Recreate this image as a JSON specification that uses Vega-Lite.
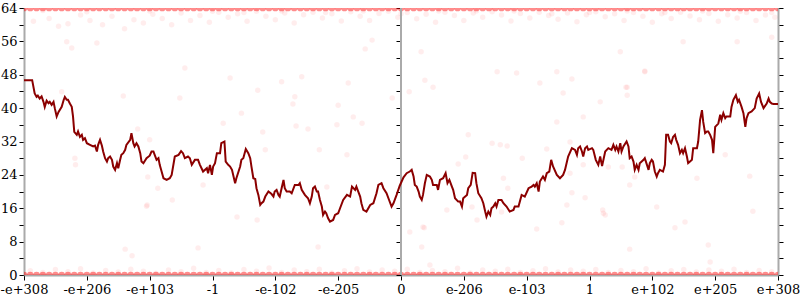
{
  "$schema": "https://vega.github.io/schema/vega-lite/v6.json",
  "width": 754,
  "height": 267,
  "autosize": {"type": "none"},
  "padding": {"left": 24, "top": 8, "right": 22, "bottom": 25},
  "background": "white",
  "config": {"view": {"stroke": null, "fill": "white"}, "font": "DejaVu Serif"},
  "datasets": {
    "band": [
      {"x":-6,"top":64,"bot":0},{"x":-5.9,"top":64,"bot":0},{"x":-5.8,"top":64,"bot":0},{"x":-5.7,"top":64,"bot":0},{"x":-5.6,"top":64,"bot":0},{"x":-5.5,"top":64,"bot":0},{"x":-5.4,"top":64,"bot":0},{"x":-5.3,"top":64,"bot":0},{"x":-5.2,"top":64,"bot":0},{"x":-5.1,"top":64,"bot":0},
      {"x":-5,"top":64,"bot":0},{"x":-4.9,"top":64,"bot":0},{"x":-4.8,"top":64,"bot":0},{"x":-4.7,"top":64,"bot":0},{"x":-4.6,"top":64,"bot":0},{"x":-4.5,"top":64,"bot":0},{"x":-4.4,"top":64,"bot":0},{"x":-4.3,"top":64,"bot":0},{"x":-4.2,"top":64,"bot":0},{"x":-4.1,"top":64,"bot":0},
      {"x":-4,"top":64,"bot":0},{"x":-3.9,"top":64,"bot":0},{"x":-3.8,"top":64,"bot":0},{"x":-3.7,"top":64,"bot":0},{"x":-3.6,"top":64,"bot":0},{"x":-3.5,"top":64,"bot":0},{"x":-3.4,"top":64,"bot":0},{"x":-3.3,"top":64,"bot":0},{"x":-3.2,"top":64,"bot":0},{"x":-3.1,"top":64,"bot":0},
      {"x":-3,"top":64,"bot":0},{"x":-2.9,"top":64,"bot":0},{"x":-2.8,"top":64,"bot":0},{"x":-2.7,"top":64,"bot":0},{"x":-2.6,"top":64,"bot":0},{"x":-2.5,"top":64,"bot":0},{"x":-2.4,"top":64,"bot":0},{"x":-2.3,"top":64,"bot":0},{"x":-2.2,"top":64,"bot":0},{"x":-2.1,"top":64,"bot":0},
      {"x":-2,"top":64,"bot":0},{"x":-1.9,"top":64,"bot":0},{"x":-1.8,"top":64,"bot":0},{"x":-1.7,"top":64,"bot":0},{"x":-1.6,"top":64,"bot":0},{"x":-1.5,"top":64,"bot":0},{"x":-1.4,"top":64,"bot":0},{"x":-1.3,"top":64,"bot":0},{"x":-1.2,"top":64,"bot":0},{"x":-1.1,"top":64,"bot":0},
      {"x":-1,"top":64,"bot":0},{"x":-0.9,"top":64,"bot":0},{"x":-0.8,"top":64,"bot":0},{"x":-0.7,"top":64,"bot":0},{"x":-0.6,"top":64,"bot":0},{"x":-0.5,"top":64,"bot":0},{"x":-0.4,"top":64,"bot":0},{"x":-0.3,"top":64,"bot":0},{"x":-0.2,"top":64,"bot":0},{"x":-0.1,"top":64,"bot":0},
      {"x":0,"top":64,"bot":0},{"x":0.1,"top":64,"bot":0},{"x":0.2,"top":64,"bot":0},{"x":0.3,"top":64,"bot":0},{"x":0.4,"top":64,"bot":0},{"x":0.5,"top":64,"bot":0},{"x":0.6,"top":64,"bot":0},{"x":0.7,"top":64,"bot":0},{"x":0.8,"top":64,"bot":0},{"x":0.9,"top":64,"bot":0},
      {"x":1,"top":64,"bot":0},{"x":1.1,"top":64,"bot":0},{"x":1.2,"top":64,"bot":0},{"x":1.3,"top":64,"bot":0},{"x":1.4,"top":64,"bot":0},{"x":1.5,"top":64,"bot":0},{"x":1.6,"top":64,"bot":0},{"x":1.7,"top":64,"bot":0},{"x":1.8,"top":64,"bot":0},{"x":1.9,"top":64,"bot":0},
      {"x":2,"top":64,"bot":0},{"x":2.1,"top":64,"bot":0},{"x":2.2,"top":64,"bot":0},{"x":2.3,"top":64,"bot":0},{"x":2.4,"top":64,"bot":0},{"x":2.5,"top":64,"bot":0},{"x":2.6,"top":64,"bot":0},{"x":2.7,"top":64,"bot":0},{"x":2.8,"top":64,"bot":0},{"x":2.9,"top":64,"bot":0},
      {"x":3,"top":64,"bot":0},{"x":3.1,"top":64,"bot":0},{"x":3.2,"top":64,"bot":0},{"x":3.3,"top":64,"bot":0},{"x":3.4,"top":64,"bot":0},{"x":3.5,"top":64,"bot":0},{"x":3.6,"top":64,"bot":0},{"x":3.7,"top":64,"bot":0},{"x":3.8,"top":64,"bot":0},{"x":3.9,"top":64,"bot":0},
      {"x":4,"top":64,"bot":0},{"x":4.1,"top":64,"bot":0},{"x":4.2,"top":64,"bot":0},{"x":4.3,"top":64,"bot":0},{"x":4.4,"top":64,"bot":0},{"x":4.5,"top":64,"bot":0},{"x":4.6,"top":64,"bot":0},{"x":4.7,"top":64,"bot":0},{"x":4.8,"top":64,"bot":0},{"x":4.9,"top":64,"bot":0},
      {"x":5,"top":64,"bot":0},{"x":5.1,"top":64,"bot":0},{"x":5.2,"top":64,"bot":0},{"x":5.3,"top":64,"bot":0},{"x":5.4,"top":64,"bot":0},{"x":5.5,"top":64,"bot":0},{"x":5.6,"top":64,"bot":0},{"x":5.7,"top":64,"bot":0},{"x":5.8,"top":64,"bot":0},{"x":5.9,"top":64,"bot":0},
      {"x":6,"top":64,"bot":0}
    ],
    "pts": [
      {"x":-5.85,"y":60.8},{"x":-5.6,"y":61.5},{"x":-5.45,"y":59.6},{"x":-5.3,"y":60.2},{"x":-5.1,"y":62.3},{"x":-4.95,"y":61},{"x":-4.75,"y":60},{"x":-4.6,"y":62},{"x":-4.4,"y":59},{"x":-4.25,"y":61.2},{"x":-4.1,"y":60.4},{"x":-3.95,"y":62.5},{"x":-3.8,"y":61.5},{"x":-3.65,"y":60},{"x":-3.5,"y":62.8},{"x":-3.35,"y":61},{"x":-3.2,"y":62.2},{"x":-3.05,"y":60.6},{"x":-2.9,"y":63},{"x":-2.75,"y":61.8},{"x":-2.6,"y":62.6},{"x":-2.45,"y":60.8},{"x":-2.3,"y":63.2},{"x":-2.15,"y":62},{"x":-2,"y":61.2},{"x":-1.85,"y":62.8},{"x":-1.7,"y":60.4},{"x":-1.55,"y":62.4},{"x":-1.4,"y":63},{"x":-1.25,"y":61.6},{"x":-1.1,"y":62.6},{"x":-0.95,"y":60.9},{"x":-0.8,"y":63.1},{"x":-0.65,"y":62},{"x":-0.5,"y":61},{"x":-0.35,"y":62.7},{"x":-0.2,"y":63.2},{"x":-0.05,"y":61.8},{"x":0.1,"y":62.9},{"x":0.25,"y":61.4},{"x":0.4,"y":62.5},{"x":0.55,"y":60.6},{"x":0.7,"y":63},{"x":0.85,"y":62.2},{"x":1,"y":61},{"x":1.15,"y":62.8},{"x":1.3,"y":61.8},{"x":1.45,"y":63.1},{"x":1.6,"y":62.3},{"x":1.75,"y":60.9},{"x":1.9,"y":62.7},{"x":2.05,"y":61.6},{"x":2.2,"y":63},{"x":2.35,"y":62.2},{"x":2.5,"y":61.3},{"x":2.65,"y":62.8},{"x":2.8,"y":60.7},{"x":2.95,"y":62.4},{"x":3.1,"y":63.1},{"x":3.25,"y":61.9},{"x":3.4,"y":62.6},{"x":3.55,"y":61},{"x":3.7,"y":62.9},{"x":3.85,"y":62},{"x":4,"y":60.6},{"x":4.15,"y":62.6},{"x":4.3,"y":61.5},{"x":4.45,"y":63},{"x":4.6,"y":62.1},{"x":4.75,"y":61.2},{"x":4.9,"y":62.7},{"x":5.05,"y":60.8},{"x":5.2,"y":62.4},{"x":5.35,"y":61.6},{"x":5.5,"y":62.9},{"x":5.65,"y":61},{"x":5.8,"y":62.3},{"x":5.95,"y":61.8},
      {"x":-2.5,"y":62.9},{"x":-1.9,"y":63.3},{"x":-1.2,"y":62.9},{"x":-0.6,"y":63.3},{"x":0,"y":62.6},{"x":0.6,"y":63.3},{"x":1.2,"y":63.3},{"x":1.8,"y":63.3},{"x":2.4,"y":62.6},{"x":3,"y":62.9},{"x":3.6,"y":63.3},{"x":4.2,"y":62.9},{"x":4.8,"y":63.3},{"x":5.4,"y":63.2},{"x":5.9,"y":62.9},{"x":-3,"y":63.2},{"x":-4,"y":63.3},{"x":-5,"y":63.1},{"x":-5.7,"y":63.4},
      {"x":-5.9,"y":1},{"x":-5.7,"y":0.6},{"x":-5.5,"y":1.3},{"x":-5.3,"y":0.8},{"x":-5.1,"y":1.5},{"x":-4.9,"y":0.5},{"x":-4.7,"y":1.1},{"x":-4.5,"y":0.7},{"x":-4.3,"y":1.4},{"x":-4.1,"y":0.9},{"x":-3.9,"y":0.4},{"x":-3.7,"y":1.2},{"x":-3.5,"y":0.8},{"x":-3.3,"y":1.6},{"x":-3.1,"y":0.6},{"x":-2.9,"y":1.1},{"x":-2.7,"y":0.5},{"x":-2.5,"y":1.3},{"x":-2.3,"y":0.9},{"x":-2.1,"y":1.7},{"x":-1.9,"y":0.6},{"x":-1.7,"y":1.2},{"x":-1.5,"y":0.8},{"x":-1.3,"y":1.4},{"x":-1.1,"y":0.5},{"x":-0.9,"y":1},{"x":-0.7,"y":1.5},{"x":-0.5,"y":0.7},{"x":-0.3,"y":1.2},{"x":-0.1,"y":0.9},{"x":0.1,"y":1.4},{"x":0.3,"y":0.6},{"x":0.5,"y":1.1},{"x":0.7,"y":0.8},{"x":0.9,"y":1.6},{"x":1.1,"y":0.5},{"x":1.3,"y":1.2},{"x":1.5,"y":0.9},{"x":1.7,"y":1.4},{"x":1.9,"y":0.6},{"x":2.1,"y":1},{"x":2.3,"y":1.5},{"x":2.5,"y":0.7},{"x":2.7,"y":1.2},{"x":2.9,"y":0.9},{"x":3.1,"y":1.3},{"x":3.3,"y":0.6},{"x":3.5,"y":1.1},{"x":3.7,"y":0.8},{"x":3.9,"y":1.5},{"x":4.1,"y":0.5},{"x":4.3,"y":1},{"x":4.5,"y":1.3},{"x":4.7,"y":0.7},{"x":4.9,"y":1.2},{"x":5.1,"y":0.9},{"x":5.3,"y":1.4},{"x":5.5,"y":0.6},{"x":5.7,"y":1.1},{"x":5.9,"y":0.8},
      {"x":-3.52,"y":42.4},{"x":-2.72,"y":47.2},{"x":-2.54,"y":38.8},{"x":-2.83,"y":36.4},{"x":-4.0,"y":32.4},{"x":-4.03,"y":23.5},{"x":-3.87,"y":20.8},{"x":-3.64,"y":18},{"x":-3.15,"y":21.6},{"x":-2.61,"y":13.9},{"x":-2.29,"y":13.2},{"x":-4.04,"y":16.8},{"x":-2.28,"y":44.3},{"x":-2.2,"y":34.3},{"x":-2.16,"y":30},
      {"x":-1.9,"y":46.3},{"x":-1.58,"y":47.5},{"x":-1.69,"y":42.7},{"x":-1.72,"y":41},{"x":-0.84,"y":46},{"x":-1.0,"y":40.7},{"x":-0.76,"y":37.9},{"x":-0.62,"y":36.4},{"x":-1.02,"y":36},{"x":-1.48,"y":35},{"x":-1.67,"y":35.7},{"x":-1.3,"y":30},{"x":-0.86,"y":28.8},{"x":-0.14,"y":42.4},{"x":-1.18,"y":21.1},
      {"x":0.38,"y":46.7},{"x":0.51,"y":45},{"x":0.13,"y":43.9},{"x":1.07,"y":33.6},{"x":1.45,"y":31.6},{"x":1.58,"y":31.2},{"x":1.69,"y":30.9},{"x":1.03,"y":28.3},{"x":0.91,"y":26.6},{"x":1.93,"y":28},{"x":1.63,"y":23.2},{"x":1.7,"y":20.8},{"x":0.73,"y":15.6},{"x":1.13,"y":16.3},{"x":1.6,"y":15.1},{"x":1.21,"y":13.2},{"x":0.35,"y":11.5},{"x":1.53,"y":48.7},{"x":1.84,"y":48.4},
      {"x":2.48,"y":48.7},{"x":2.21,"y":46},{"x":2.58,"y":43.6},{"x":2.72,"y":47},{"x":3.17,"y":41.5},{"x":3.6,"y":45},{"x":3.6,"y":43.1},{"x":2.48,"y":36.7},{"x":2.9,"y":37.9},{"x":2.32,"y":30.2},{"x":2.69,"y":31.9},{"x":2.69,"y":24.4},{"x":2.9,"y":26.4},{"x":3.3,"y":25.9},{"x":3.52,"y":25.9},{"x":3.64,"y":21.6},{"x":3.72,"y":23.5},{"x":2.72,"y":19.7},{"x":2.93,"y":18.5},{"x":2.64,"y":16.8},{"x":3.21,"y":15.6},{"x":3.25,"y":14.4},{"x":2.56,"y":12.5},{"x":2.16,"y":11},{"x":3.88,"y":48.7},
      {"x":5.16,"y":28.8},{"x":4.71,"y":23.2},{"x":5.55,"y":23.7},{"x":4.07,"y":16.3},{"x":5.6,"y":15.3},{"x":4.52,"y":12.7},{"x":4.36,"y":11.3},
      {"x":-5.4,"y":43.9},{"x":-4.42,"y":42.9},{"x":-4.19,"y":35},{"x":-5.19,"y":28},{"x":-5.18,"y":26.4},{"x":-4.05,"y":16.5},{"x":-3.44,"y":49.6},{"x":-5.24,"y":54.4},{"x":-5.32,"y":55.9},{"x":-4.84,"y":55.6},
      {"x":-4.39,"y":6.2},{"x":-4.28,"y":4.6},{"x":-3.23,"y":6.5},{"x":0.14,"y":10.3},{"x":0.37,"y":11.3},{"x":0.33,"y":6.7},{"x":-1.32,"y":6.7},{"x":0.46,"y":2.4},{"x":3.64,"y":6.2},{"x":4.89,"y":7.2},{"x":4.92,"y":3.1},{"x":3.22,"y":14.8},
      {"x":3.49,"y":53.5},{"x":3.88,"y":48.9},{"x":4.49,"y":55.9},{"x":3.58,"y":45},{"x":5.35,"y":55.9},{"x":5.9,"y":57},{"x":-0.57,"y":54.2},{"x":0.32,"y":53.5},{"x":-0.46,"y":56.3}
    ],
    "line": [
      {"x":-6,"y":46.7},{"x":-5.87,"y":46.7},{"x":-5.83,"y":43.5},{"x":-5.8,"y":42.7},{"x":-5.78,"y":43},{"x":-5.75,"y":42.3},{"x":-5.72,"y":42.8},{"x":-5.69,"y":41.5},{"x":-5.67,"y":40.3},{"x":-5.64,"y":41.8},{"x":-5.61,"y":41.2},{"x":-5.59,"y":41.5},{"x":-5.56,"y":40.8},{"x":-5.53,"y":41.5},{"x":-5.51,"y":40},{"x":-5.48,"y":38},{"x":-5.45,"y":39.1},{"x":-5.4,"y":40.3},{"x":-5.37,"y":41.9},{"x":-5.35,"y":42.7},{"x":-5.32,"y":42},{"x":-5.3,"y":42},{"x":-5.27,"y":41.1},{"x":-5.24,"y":40.3},{"x":-5.22,"y":38},{"x":-5.2,"y":34.3},{"x":-5.16,"y":33.6},{"x":-5.14,"y":34.4},{"x":-5.11,"y":33.1},{"x":-5.08,"y":33.6},{"x":-5.06,"y":32.4},{"x":-5.03,"y":32.8},{"x":-5,"y":31.6},{"x":-4.95,"y":31.2},{"x":-4.9,"y":30.8},{"x":-4.87,"y":31},{"x":-4.84,"y":29.6},{"x":-4.82,"y":31.2},{"x":-4.79,"y":32.4},{"x":-4.76,"y":31},{"x":-4.74,"y":29.6},{"x":-4.71,"y":28},{"x":-4.68,"y":27.2},{"x":-4.66,"y":28},{"x":-4.63,"y":28.4},{"x":-4.6,"y":27.6},{"x":-4.58,"y":26},{"x":-4.55,"y":25.2},{"x":-4.52,"y":26.8},{"x":-4.5,"y":25.6},{"x":-4.47,"y":27.6},{"x":-4.45,"y":28.8},{"x":-4.42,"y":29.2},{"x":-4.39,"y":30},{"x":-4.37,"y":31.2},{"x":-4.31,"y":32.4},{"x":-4.29,"y":34},{"x":-4.26,"y":31.6},{"x":-4.24,"y":30.8},{"x":-4.21,"y":31.6},{"x":-4.18,"y":30.8},{"x":-4.15,"y":29.2},{"x":-4.13,"y":27.2},{"x":-4.1,"y":26.8},{"x":-4.05,"y":28},{"x":-4,"y":28.6},
      {"x":-3.97,"y":29.6},{"x":-3.94,"y":29.6},{"x":-3.92,"y":28.8},{"x":-3.89,"y":27.6},{"x":-3.86,"y":28},{"x":-3.84,"y":26.4},{"x":-3.81,"y":24.8},{"x":-3.78,"y":23.2},{"x":-3.73,"y":22.8},{"x":-3.68,"y":23.2},{"x":-3.65,"y":24},{"x":-3.6,"y":28.4},{"x":-3.54,"y":28.8},{"x":-3.5,"y":29.7},{"x":-3.47,"y":29.2},{"x":-3.44,"y":28},{"x":-3.39,"y":28.4},{"x":-3.36,"y":28},{"x":-3.33,"y":26.4},{"x":-3.28,"y":27.6},{"x":-3.23,"y":27.6},{"x":-3.2,"y":26.4},{"x":-3.15,"y":24.8},{"x":-3.09,"y":25.6},{"x":-3.07,"y":24.4},{"x":-3.04,"y":26.4},{"x":-3.01,"y":24},{"x":-2.99,"y":26},{"x":-2.96,"y":26.8},{"x":-2.93,"y":29.2},{"x":-2.88,"y":29.2},{"x":-2.86,"y":31.6},{"x":-2.81,"y":32},{"x":-2.79,"y":27.2},{"x":-2.75,"y":26.4},{"x":-2.72,"y":26},{"x":-2.69,"y":25.2},{"x":-2.64,"y":22},{"x":-2.62,"y":23.2},{"x":-2.56,"y":26},{"x":-2.54,"y":27.6},{"x":-2.51,"y":28},{"x":-2.47,"y":30.2},{"x":-2.43,"y":29.2},{"x":-2.4,"y":28},{"x":-2.38,"y":26},{"x":-2.35,"y":23.2},{"x":-2.32,"y":23},{"x":-2.3,"y":20.8},{"x":-2.27,"y":19.2},{"x":-2.24,"y":16.8},{"x":-2.22,"y":17.2},{"x":-2.19,"y":17.6},{"x":-2.16,"y":18.8},{"x":-2.11,"y":20},{"x":-2.06,"y":19.4},{"x":-2.03,"y":18.8},{"x":-2.01,"y":20},
      {"x":-1.98,"y":20.4},{"x":-1.95,"y":19.2},{"x":-1.93,"y":18.8},{"x":-1.9,"y":20.8},{"x":-1.87,"y":22.8},{"x":-1.85,"y":20.8},{"x":-1.82,"y":20},{"x":-1.77,"y":20},{"x":-1.74,"y":19.6},{"x":-1.69,"y":21.6},{"x":-1.63,"y":21.6},{"x":-1.61,"y":22},{"x":-1.58,"y":20.4},{"x":-1.53,"y":19.2},{"x":-1.48,"y":18.4},{"x":-1.45,"y":17.2},{"x":-1.42,"y":18.8},{"x":-1.4,"y":20.8},{"x":-1.37,"y":21.2},{"x":-1.34,"y":20},{"x":-1.32,"y":20},{"x":-1.29,"y":18},{"x":-1.26,"y":16.4},{"x":-1.24,"y":14.4},{"x":-1.21,"y":15.2},{"x":-1.19,"y":14.8},{"x":-1.16,"y":13.6},{"x":-1.13,"y":12.8},{"x":-1.08,"y":13.2},{"x":-1.05,"y":14.4},{"x":-1,"y":14.8},{"x":-0.97,"y":16},{"x":-0.92,"y":18},{"x":-0.86,"y":19.2},{"x":-0.81,"y":18.8},{"x":-0.78,"y":21.2},{"x":-0.73,"y":20.4},{"x":-0.71,"y":21.2},{"x":-0.68,"y":20},{"x":-0.65,"y":18.8},{"x":-0.63,"y":17.2},{"x":-0.6,"y":15.6},{"x":-0.55,"y":15.2},{"x":-0.49,"y":16.8},{"x":-0.44,"y":17.2},{"x":-0.39,"y":19.6},{"x":-0.36,"y":21.6},{"x":-0.31,"y":22},{"x":-0.28,"y":20.8},{"x":-0.23,"y":19.6},{"x":-0.2,"y":18.4},{"x":-0.15,"y":16.4},{"x":-0.12,"y":17.2},{"x":-0.07,"y":19.2},{"x":-0.02,"y":21.4},
      {"x":0.04,"y":23.4},{"x":0.09,"y":24.4},{"x":0.14,"y":24.8},{"x":0.17,"y":25.2},{"x":0.2,"y":23.6},{"x":0.22,"y":21.6},{"x":0.25,"y":21.2},{"x":0.28,"y":20},{"x":0.3,"y":18.8},{"x":0.33,"y":18},{"x":0.35,"y":19.2},{"x":0.38,"y":22},{"x":0.41,"y":24},{"x":0.46,"y":23.6},{"x":0.49,"y":22.8},{"x":0.51,"y":21.6},{"x":0.57,"y":21.6},{"x":0.59,"y":20.4},{"x":0.62,"y":22.8},{"x":0.67,"y":23.2},{"x":0.71,"y":24.4},{"x":0.74,"y":22},{"x":0.77,"y":22.8},{"x":0.81,"y":21.2},{"x":0.83,"y":20.4},{"x":0.86,"y":18.4},{"x":0.91,"y":17.6},{"x":0.94,"y":17.6},{"x":0.97,"y":16.4},{"x":0.99,"y":18.4},{"x":1.05,"y":19.2},{"x":1.07,"y":20.8},{"x":1.11,"y":21.6},{"x":1.14,"y":24.5},{"x":1.18,"y":24.4},{"x":1.2,"y":22},{"x":1.23,"y":19.6},{"x":1.28,"y":18.4},{"x":1.31,"y":17.2},{"x":1.34,"y":15.2},{"x":1.36,"y":14},{"x":1.39,"y":15.2},{"x":1.42,"y":14.4},{"x":1.44,"y":16},{"x":1.47,"y":16.4},{"x":1.5,"y":17.2},{"x":1.52,"y":16.4},{"x":1.55,"y":18},{"x":1.6,"y":18},{"x":1.63,"y":17.2},{"x":1.68,"y":16.4},{"x":1.73,"y":15.2},{"x":1.79,"y":15.6},{"x":1.81,"y":16.4},{"x":1.87,"y":16.4},{"x":1.92,"y":19.2},{"x":1.97,"y":18.8},
      {"x":2.03,"y":20.8},{"x":2.08,"y":21.2},{"x":2.11,"y":21.6},{"x":2.13,"y":21.2},{"x":2.16,"y":22},{"x":2.19,"y":20},{"x":2.21,"y":22.4},{"x":2.26,"y":23.6},{"x":2.29,"y":22.8},{"x":2.32,"y":24.4},{"x":2.36,"y":24.8},{"x":2.39,"y":27.6},{"x":2.42,"y":26},{"x":2.48,"y":24},{"x":2.53,"y":23.2},{"x":2.58,"y":24},{"x":2.61,"y":25.2},{"x":2.66,"y":28.4},{"x":2.72,"y":30.4},{"x":2.77,"y":30},{"x":2.8,"y":28.8},{"x":2.82,"y":30.4},{"x":2.85,"y":30.8},{"x":2.88,"y":29.6},{"x":2.9,"y":28.4},{"x":2.93,"y":30.4},{"x":2.96,"y":30.8},{"x":2.98,"y":30},{"x":3.04,"y":30.4},{"x":3.06,"y":30},{"x":3.1,"y":27.6},{"x":3.14,"y":26.4},{"x":3.17,"y":28.4},{"x":3.2,"y":26.1},{"x":3.25,"y":29.6},{"x":3.3,"y":30.4},{"x":3.35,"y":30},{"x":3.38,"y":31.2},{"x":3.41,"y":30},{"x":3.43,"y":30.8},{"x":3.46,"y":29.6},{"x":3.49,"y":31.6},{"x":3.51,"y":29.6},{"x":3.54,"y":30.8},{"x":3.59,"y":32},{"x":3.62,"y":30.8},{"x":3.64,"y":28},{"x":3.67,"y":28.4},{"x":3.7,"y":27.2},{"x":3.72,"y":25.2},{"x":3.75,"y":26.4},{"x":3.78,"y":25.2},{"x":3.8,"y":26.8},{"x":3.86,"y":27.6},{"x":3.88,"y":28},{"x":3.94,"y":25.2},{"x":3.96,"y":26.8},{"x":3.99,"y":27.6},
      {"x":4.01,"y":27.2},{"x":4.04,"y":24.8},{"x":4.07,"y":23.6},{"x":4.09,"y":24.4},{"x":4.12,"y":25.2},{"x":4.17,"y":24.8},{"x":4.2,"y":26.4},{"x":4.22,"y":33.6},{"x":4.25,"y":33.6},{"x":4.28,"y":32},{"x":4.3,"y":31.6},{"x":4.33,"y":33.1},{"x":4.36,"y":33.6},{"x":4.38,"y":32.4},{"x":4.41,"y":31.2},{"x":4.44,"y":29.2},{"x":4.47,"y":30},{"x":4.49,"y":29.2},{"x":4.52,"y":30.4},{"x":4.55,"y":28.4},{"x":4.57,"y":26.8},{"x":4.6,"y":27.2},{"x":4.63,"y":27.6},{"x":4.65,"y":30.4},{"x":4.71,"y":30.4},{"x":4.73,"y":32},{"x":4.76,"y":37.2},{"x":4.79,"y":39.5},{"x":4.81,"y":36.7},{"x":4.84,"y":34},{"x":4.87,"y":34.4},{"x":4.89,"y":34.4},{"x":4.92,"y":33.6},{"x":4.95,"y":32.4},{"x":4.97,"y":29.2},{"x":5,"y":35.5},{"x":5.05,"y":36.3},{"x":5.08,"y":38.4},{"x":5.1,"y":37.2},{"x":5.13,"y":38.8},{"x":5.16,"y":37.6},{"x":5.18,"y":38},{"x":5.24,"y":38},{"x":5.26,"y":40.3},{"x":5.29,"y":42},{"x":5.33,"y":43.1},{"x":5.36,"y":41.5},{"x":5.38,"y":42},{"x":5.42,"y":40.3},{"x":5.45,"y":38.8},{"x":5.48,"y":35.5},{"x":5.5,"y":37.6},{"x":5.53,"y":38.8},{"x":5.58,"y":39.2},{"x":5.63,"y":40},{"x":5.66,"y":42.3},{"x":5.7,"y":43.5},{"x":5.73,"y":41.5},{"x":5.77,"y":40},{"x":5.82,"y":41.1},{"x":5.85,"y":42.3},{"x":5.87,"y":41.5},{"x":5.9,"y":41.1},{"x":5.93,"y":41},{"x":6,"y":41}
    ]
  },
  "layer": [
    {
      "data": {"name": "band"},
      "transform": [{"fold": ["top", "bot"], "as": ["k", "y"]}],
      "mark": {"type": "circle", "clip": true, "color": "#ff0000", "opacity": 0.45, "size": 45},
      "encoding": {
        "x": {
          "field": "x", "type": "quantitative",
          "scale": {"domain": [-6, 6], "nice": false, "zero": false},
          "axis": {
            "orient": "bottom", "title": null, "grid": false,
            "values": [-6, -5, -4, -3, -2, -1, 0, 1, 2, 3, 4, 5, 6],
            "labelExpr": "['-e+308','-e+206','-e+103','-1','-e-102','-e-205','0','e-206','e-103','1','e+102','e+205','e+308'][datum.value + 6]",
            "labelFlush": false, "labelOverlap": false,
            "labelFont": "DejaVu Serif", "labelFontSize": 13, "labelColor": "#000", "labelPadding": 3,
            "domainColor": "#aaaaaa", "domainWidth": 2,
            "tickColor": "#000", "tickWidth": 1, "tickSize": 5,
            "encode": {"ticks": {"update": {"y": {"value": -5}, "y2": {"value": 5}}}}
          }
        },
        "y": {
          "field": "y", "type": "quantitative",
          "scale": {"domain": [0, 64], "nice": false, "zero": false},
          "axis": {
            "orient": "left", "title": null, "grid": false,
            "values": [0, 4, 8, 12, 16, 20, 24, 28, 32, 36, 40, 44, 48, 52, 56, 60, 64],
            "labelExpr": "datum.value % 8 === 0 ? datum.label : ''",
            "labelOverlap": false,
            "labelFont": "DejaVu Serif", "labelFontSize": 13, "labelColor": "#000", "labelPadding": 2,
            "domainColor": "#aaaaaa", "domainWidth": 2,
            "tickColor": "#000", "tickWidth": 1, "tickSize": 5,
            "encode": {"ticks": {"update": {"x": {"signal": "datum.value % 8 === 0 ? 5 : 3"}, "x2": {"signal": "datum.value % 8 === 0 ? -5 : -3"}}}}
          }
        }
      }
    },
    {
      "data": {"name": "pts"},
      "mark": {"type": "circle", "clip": true, "color": "#ff0000", "opacity": 0.07, "size": 30},
      "encoding": {
        "x": {"field": "x", "type": "quantitative", "axis": null},
        "y": {
          "field": "y", "type": "quantitative",
          "axis": {
            "orient": "right", "title": null, "grid": false, "labels": false,
            "values": [0, 4, 8, 12, 16, 20, 24, 28, 32, 36, 40, 44, 48, 52, 56, 60, 64],
            "domainColor": "#aaaaaa", "domainWidth": 2,
            "tickColor": "#000", "tickWidth": 1, "tickSize": 5,
            "encode": {"ticks": {"update": {"x": {"signal": "datum.value % 8 === 0 ? -5 : -3"}, "x2": {"signal": "datum.value % 8 === 0 ? 5 : 3"}}}}
          }
        }
      }
    },
    {
      "data": {"values": [{"x": 0}]},
      "mark": {"type": "rule", "color": "#aaaaaa", "strokeWidth": 2},
      "encoding": {
        "x": {"field": "x", "type": "quantitative", "axis": null},
        "y": {
          "datum": 0, "type": "quantitative",
          "axis": {
            "orient": "left", "offset": -377, "title": null, "grid": false, "labels": false, "domain": false,
            "values": [0, 4, 8, 12, 16, 20, 24, 28, 32, 36, 40, 44, 48, 52, 56, 60, 64],
            "tickColor": "#000", "tickWidth": 1, "tickSize": 5,
            "encode": {"ticks": {"update": {"x": {"signal": "datum.value % 8 === 0 ? 5 : 3"}, "x2": {"signal": "datum.value % 8 === 0 ? -5 : -3"}}}}
          }
        },
        "y2": {"datum": 64}
      }
    },
    {
      "data": {"name": "line"},
      "mark": {"type": "line", "color": "#8b0000", "strokeWidth": 2, "clip": true},
      "encoding": {
        "x": {"field": "x", "type": "quantitative", "axis": null},
        "y": {"field": "y", "type": "quantitative", "axis": null}
      }
    }
  ],
  "resolve": {"axis": {"x": "independent", "y": "independent"}}
}
